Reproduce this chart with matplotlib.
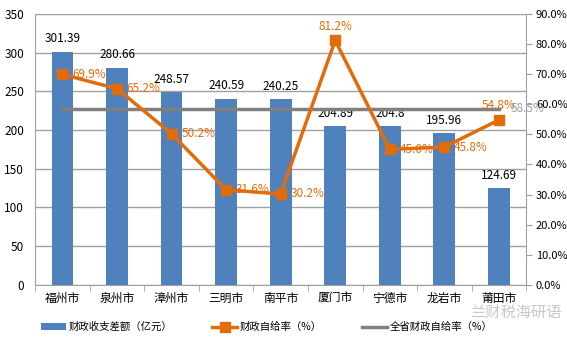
import matplotlib.pyplot as plt
import numpy as np

plt.rcParams['font.family'] = ['Noto Sans CJK SC', 'DejaVu Sans']

cities = ['福州市', '泉州市', '漳州市', '三明市', '南平市', '厦门市', '宁德市', '龙岩市', '莆田市']
gap = [301.39, 280.66, 248.57, 240.59, 240.25, 204.89, 204.8, 195.96, 124.69]
gap_labels = ['301.39', '280.66', '248.57', '240.59', '240.25', '204.89', '204.8', '195.96', '124.69']
self_rate = [69.9, 65.2, 50.2, 31.6, 30.2, 81.2, 45.0, 45.8, 54.8]
province_rate = 58.5

blue = '#4F81BD'
orange = '#E36C0A'
gray = '#808080'

fig = plt.figure(figsize=(5.67, 3.4), dpi=100)
ax = fig.add_axes([0.062, 0.162, 0.866, 0.797])
ax2 = ax.twinx()

x = np.arange(len(cities))
ax.bar(x, gap, width=0.4, color=blue, zorder=2, label='财政收支差额（亿元）')
for xi, v, s in zip(x, gap, gap_labels):
    ax.text(xi, v + 8, s, ha='center', va='bottom', fontsize=8.5, color='black')

ax.set_ylim(0, 350)
ax.set_yticks(range(0, 351, 50))
ax.set_xlim(-0.5, len(cities) - 0.5)
ax.set_xticks(x)
ax.set_xticklabels(cities, fontsize=8.5)
ax.set_xticks(np.arange(-0.5, len(cities), 1), minor=True)
ax.tick_params(axis='x', which='major', length=0, pad=5)
ax.tick_params(axis='x', which='minor', length=4, color='#A0A0A0')
ax.tick_params(axis='y', length=0, labelsize=8.5, pad=8)
ax.grid(axis='y', color='#A0A0A0', linewidth=1, zorder=0)
for side in ['top', 'right']:
    ax.spines[side].set_visible(False)
for side in ['left', 'bottom']:
    ax.spines[side].set_color('#A0A0A0')

ax2.plot(x, self_rate, color=orange, linewidth=2.5, marker='s', markersize=7,
         zorder=4, label='财政自给率（%）')
ax2.plot([x[0], x[-1]], [province_rate, province_rate], color=gray, linewidth=2.5,
         zorder=3, label='全省财政自给率（%）')
for xi, r in zip(x, self_rate):
    if r == max(self_rate) or xi == x[-1]:
        ax2.text(xi, r + 2.5, f'{r:.1f}%', ha='center', va='bottom', fontsize=8.5, color=orange)
    else:
        ax2.text(xi + 0.18, r, f'{r:.1f}%', ha='left', va='center', fontsize=8.5, color=orange)
ax2.text(x[-1] + 0.22, province_rate, f'{province_rate:.1f}%', ha='left', va='center',
         fontsize=8.5, color='#A0A0A0')

ax2.set_ylim(0, 90)
ax2.set_yticks(range(0, 91, 10))
ax2.set_yticklabels([f'{t:.1f}%' for t in range(0, 91, 10)], fontsize=8)
ax2.tick_params(axis='y', length=4, color='#A0A0A0', pad=3)
for side in ['top', 'left', 'bottom']:
    ax2.spines[side].set_visible(False)
ax2.spines['right'].set_color('#A0A0A0')

h1, l1 = ax.get_legend_handles_labels()
h2, l2 = ax2.get_legend_handles_labels()
fig.legend(h1 + h2, l1 + l2, loc='lower left', bbox_to_anchor=(0.055, -0.005), ncol=3,
           frameon=False, fontsize=7.5, columnspacing=3.8, handlelength=2.4,
           handleheight=0.6, handletextpad=0.3)

fig.text(0.91, 0.08, '兰财税海研语', fontsize=11, color='#C8C8C8', ha='center', va='center')

fig.savefig('out.png', dpi=100)
